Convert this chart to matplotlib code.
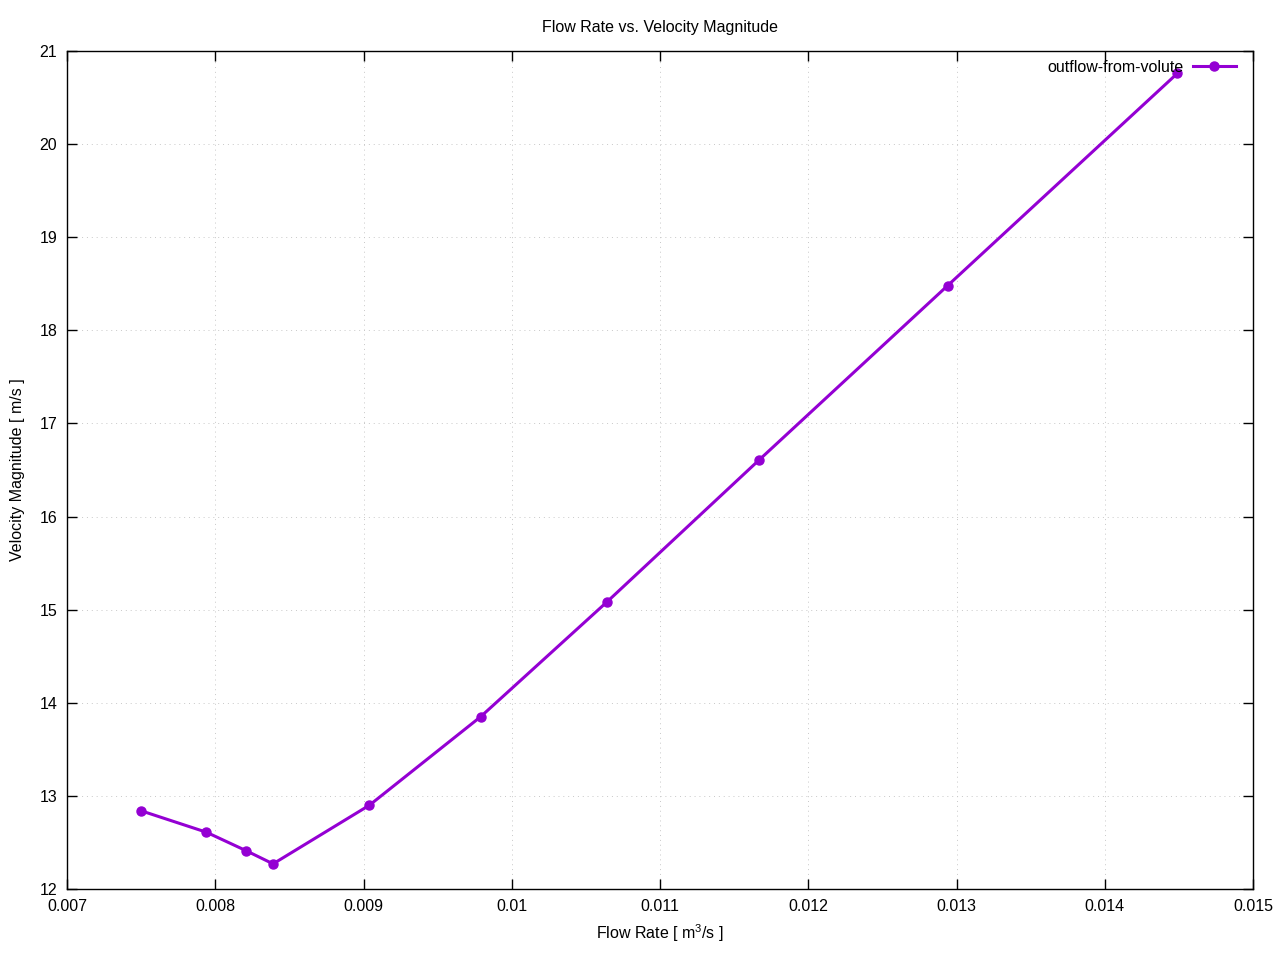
import matplotlib
matplotlib.use('Agg')
import matplotlib.pyplot as plt

plt.rcParams['font.family'] = ['Liberation Sans', 'DejaVu Sans']
plt.rcParams['mathtext.default'] = 'regular'

# data
flow_rate = [0.00750, 0.00794, 0.00821, 0.00839, 0.00904, 0.00979,
             0.01064, 0.01167, 0.01294, 0.01449]
velocity = [12.84, 12.61, 12.41, 12.27, 12.90, 13.85,
            15.08, 16.61, 18.48, 20.76]
x_ticks = [0.007, 0.008, 0.009, 0.01, 0.011, 0.012, 0.013, 0.014, 0.015]
x_tick_labels = ['0.007', '0.008', '0.009', '0.01', '0.011', '0.012', '0.013', '0.014', '0.015']
y_ticks = list(range(12, 22))

fs = 11.5

fig = plt.figure(figsize=(12.8, 9.6), dpi=100)
ax = fig.add_axes([67 / 1280, 1 - 889 / 960, (1253 - 67) / 1280, (889 - 51) / 960])

ax.plot(flow_rate, velocity, color='#9400D3', linewidth=2.2, marker='o',
        markersize=6.5, label='outflow-from-volute')

ax.set_xlim(0.007, 0.015)
ax.set_ylim(12, 21)
ax.set_xticks(x_ticks)
ax.set_xticklabels(x_tick_labels)
ax.set_yticks(y_ticks)

ax.grid(True, linestyle=(0, (1, 4)), color='#c8c8c8', linewidth=0.7)
ax.tick_params(direction='in', top=True, right=True, length=7, width=1,
               labelsize=fs, pad=7)
for s in ax.spines.values():
    s.set_linewidth(1)

ax.set_title('Flow Rate vs. Velocity Magnitude', fontsize=fs, pad=13.5)
ax.set_xlabel('Flow Rate [ m$^3$/s ]', fontsize=fs, labelpad=6)
ax.set_ylabel('Velocity Magnitude [ m/s ]', fontsize=fs, labelpad=10.5)

ax.legend(loc='center right', bbox_to_anchor=(1236 / 1280, 1 - 67 / 960),
          bbox_transform=fig.transFigure, frameon=False, markerfirst=False,
          fontsize=fs, handlelength=2.7, borderpad=0, borderaxespad=0,
          handletextpad=0.55)

fig.savefig('out.png', dpi=100)
